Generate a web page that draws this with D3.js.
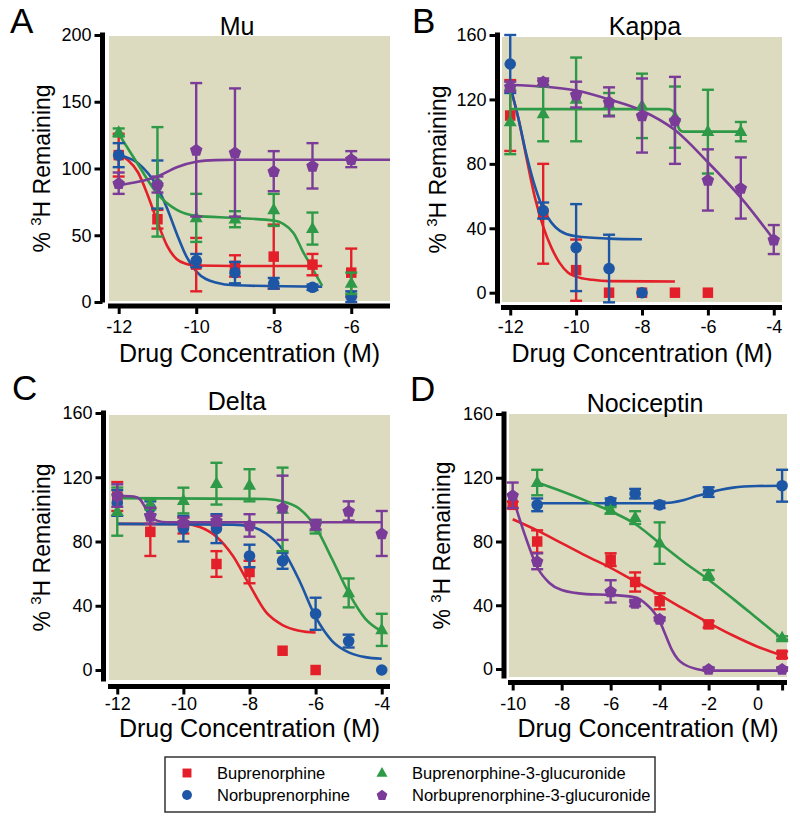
<!DOCTYPE html>
<html><head><meta charset="utf-8">
<script src="https://cdn.jsdelivr.net/npm/d3@7"></script>
<style>
body{margin:0;background:#fff;}
text{font-family:"Liberation Sans",Arial,Helvetica,sans-serif;fill:#000;}
</style>
</head><body>
<svg id="chart" width="800" height="822"></svg>
<script>
// ---------- series / legend ----------
const seriesNames = ["Buprenorphine","Norbuprenorphine","Buprenorphine-3-glucuronide","Norbuprenorphine-3-glucuronide"];
const seriesColors = ["#e3202a","#1d56a5","#2e9a47","#7a3c98"];
const seriesShapes = ["square","circle","triangle","pentagon"];

// ---------- A: Mu ----------
const muDose = [-12,-11,-10,-9,-8,-7,-6];
const muBup = [110,62,28,27,34,28,22];
const muBupErr = [16,7,20,8,24,8,18];
const muNor = [110,88,31,22,14,11,4];
const muNorErr = [9,18,5,8,4,2,4];
const muB3g = [127,90,63,62,69,55,14];
const muB3gErr = [3,41,18,6,12,12,8];
const muN3g = [89,88,114,112,98,102,107];
const muN3gErr = [8,6,50,48,15,17,6];
const muBupFitX = [-12,-11.75,-11.5,-11.25,-11,-10.75,-10.5,-10.25,-10,-9,-6.75];
const muBupFitY = [110,106,97,80,60,42,32,28.5,27.3,27,27];
const muNorFitX = [-12,-11.5,-11,-10.75,-10.5,-10.25,-10,-9.5,-9,-6.75];
const muNorFitY = [110,104,86,70,51,34,23,14.6,12.5,11.5];
const muB3gFitX = [-12,-11.5,-11,-10.5,-10,-9,-8,-7.5,-7.25,-7,-6.75];
const muB3gFitY = [126,103,81,69,64.5,63,61,52,38,25,12];
const muN3gFitX = [-12,-11.5,-11,-10.5,-10,-9.5,-9,-5];
const muN3gFitY = [87.5,90,94,101,105,106.3,106.5,106.5];
const muXTicks = [-12,-10,-8,-6];
const muYTicks = [0,50,100,150,200];

// ---------- B: Kappa ----------
const kapDose = [-12,-11,-10,-9,-8,-7,-6,-5,-4];
const kapBup = [110,49,14,0,0,0,0,null,null];
const kapBupErr = [22,31,19,0,0,0,0,0,0];
const kapNor = [142,51,28,15,0,null,null,null,null];
const kapNorErr = [18,5,27,21,0,0,0,0,0];
const kapB3g = [106,111,120,117,116,109,100,100,null];
const kapB3gErr = [20,17,26,7,20,19,26,6,0];
const kapN3g = [128,131,123,118.5,110,107,70,65,33];
const kapN3gErr = [3,2,8,9,23,27,19,19,9];
const kapBupFitX = [-12,-11.75,-11.5,-11.25,-11,-10.75,-10.5,-10.25,-10,-9.5,-9,-7];
const kapBupFitY = [128,108,83,59,41,28,18.5,12.5,10,8,7.2,7];
const kapNorFitX = [-12,-11.75,-11.5,-11.25,-11,-10.75,-10.5,-10,-9,-8];
const kapNorFitY = [128,108,85,66,52,43.5,38.5,35,33.6,33.2];
const kapB3gFitX = [-12,-7.2,-7.05,-6.95,-6.85,-6.75,-5];
const kapB3gFitY = [114,114,112.5,106,101,100,100];
const kapN3gFitX = [-12,-11,-10,-9,-8,-7,-6,-5,-4];
const kapN3gFitY = [129,128,125.5,120,113,101,81,59,33];
const kapXTicks = [-12,-10,-8,-6,-4];
const kapYTicks = [0,40,80,120,160];

// ---------- C: Delta ----------
const delDose = [-12,-11,-10,-9,-8,-7,-6,-5,-4];
const delBup = [108,86,90,66,61,12,0,null,null];
const delBupErr = [9,15,5,8,7,0,0,0,0];
const delNor = [104,101,88,88,71,68,35,18,0];
const delNorErr = [8,4,8,9,7,5,10,4,0];
const delB3g = [98.6,103,105.5,116,115,100,89,48,25];
const delB3gErr = [15,3,8,13,10,26,4,9,10];
const delN3g = [108.6,96,92,93,90,101,90.5,99,85];
const delN3gErr = [7,5,3,3,7,20,3,6,14];
const delBupFitX = [-12,-10,-9.5,-9,-8.5,-8,-7.5,-7,-6.5,-6];
const delBupFitY = [91,91,89,83,71,53,36,28,24.5,23.3];
const delNorFitX = [-12,-8.5,-8,-7.5,-7,-6.5,-6,-5.5,-5,-4.5,-4];
const delNorFitY = [91,90.5,89.5,85,75,56,33,18,11,8,7];
const delB3gFitX = [-12,-7.5,-7,-6.5,-6,-5.5,-5,-4.5,-4];
const delB3gFitY = [107,106.5,105,100.5,89,69,48,32,24];
const delN3gFitX = [-12,-11.5,-11.3,-11.15,-11,-10.8,-10.5,-4];
const delN3gFitY = [108.5,108,106,101,96,93,92,92];
const delXTicks = [-12,-10,-8,-6,-4];
const delYTicks = [0,40,80,120,160];

// ---------- D: Nociceptin ----------
const nocDose = [-10,-9,-6,-5,-4,-2,1];
const nocBup = [103,80,68.6,54.6,42.5,28,9];
const nocBupErr = [2,7,4,6,5,2,2];
const nocNor = [null,103,105,110,103,111,115];
const nocNorErr = [0,4,2,3,2,3,10];
const nocB3g = [null,117,99.6,95,79,59,19.5];
const nocB3gErr = [0,8,2,4,13,3,1];
const nocN3g = [109,67.6,48.7,41.4,31.4,0,0];
const nocN3gErr = [8,5,7,2,1,1,1];
const nocBupFitX = [-10,-9,-8,-7,-6,-5,-4,-3,-2,-1,0,1];
const nocBupFitY = [94,87,79,71,63.5,55,46.5,37.5,29,21,14,8.5];
const nocNorFitX = [-9,-4,-3.5,-3,-2.5,-2,-1.5,-1,0,1];
const nocNorFitY = [104,104,104.5,106,108.5,110.5,112.5,113.8,114.8,115];
const nocB3gFitX = [-9,-8,-7,-6,-5,-4,-3,-2,-1,0,1];
const nocB3gFitY = [117,111.5,105.5,99,91,79,67,56,44,31.5,19];
const nocN3gFitX = [-10,-9.5,-9,-8.5,-8,-7,-6,-5,-4.5,-4.25,-4,-3.75,-3.5,-3.25,-3,-2.5,-2,1];
const nocN3gFitY = [108,84,64,54,49.5,47,46.5,45,40,36,30,21,12,6,3,0,-1,-1];
const nocXTicks = [-10,-8,-6,-4,-2,0,1];
const nocYTicks = [0,40,80,120,160];

// ---------- layout (positions only) ----------
const panels = [
  {letter:"A", title:"Mu", dose:muDose,
   ys:[muBup,muNor,muB3g,muN3g], errs:[muBupErr,muNorErr,muB3gErr,muN3gErr],
   fits:[[muBupFitX,muBupFitY],[muNorFitX,muNorFitY],[muB3gFitX,muB3gFitY],[muN3gFitX,muN3gFitY]],
   xTicks:muXTicks, yTicks:muYTicks, xDom:[-12.25,-5], yMax:200,
   bg:[109,390,36,301], y0:302, yTop:35, axisX:102.5, axisY:306, tickBase:333,
   letterPos:[10,33], titlePos:[237,35], yTitleX:50, xTitleY:362},
  {letter:"B", title:"Kappa", dose:kapDose,
   ys:[kapBup,kapNor,kapB3g,kapN3g], errs:[kapBupErr,kapNorErr,kapB3gErr,kapN3gErr],
   fits:[[kapBupFitX,kapBupFitY],[kapNorFitX,kapNorFitY],[kapB3gFitX,kapB3gFitY],[kapN3gFitX,kapN3gFitY]],
   xTicks:kapXTicks, yTicks:kapYTicks, xDom:[-12.25,-3.75], yMax:160,
   bg:[502,782,37,302], y0:292.7, yTop:35, axisX:497.5, axisY:307.5, tickBase:333,
   letterPos:[412,33], titlePos:[645,35], yTitleX:446, xTitleY:362},
  {letter:"C", title:"Delta", dose:delDose,
   ys:[delBup,delNor,delB3g,delN3g], errs:[delBupErr,delNorErr,delB3gErr,delN3gErr],
   fits:[[delBupFitX,delBupFitY],[delNorFitX,delNorFitY],[delB3gFitX,delB3gFitY],[delN3gFitX,delN3gFitY]],
   xTicks:delXTicks, yTicks:delYTicks, xDom:[-12.25,-3.75], yMax:160,
   bg:[109,390,415,680], y0:670, yTop:413, axisX:103.5, axisY:686.5, tickBase:709.5,
   letterPos:[12,400], titlePos:[237,410], yTitleX:50, xTitleY:737},
  {letter:"D", title:"Nociceptin", dose:nocDose,
   ys:[nocBup,nocNor,nocB3g,nocN3g], errs:[nocBupErr,nocNorErr,nocB3gErr,nocN3gErr],
   fits:[[nocBupFitX,nocBupFitY],[nocNorFitX,nocNorFitY],[nocB3gFitX,nocB3gFitY],[nocN3gFitX,nocN3gFitY]],
   xTicks:nocXTicks, yTicks:nocYTicks, xDom:[-10.15,1.2], yMax:160,
   bg:[509,787,414,677], y0:669, yTop:414, axisX:504, axisY:682.5, tickBase:709.5,
   letterPos:[410,401], titlePos:[645,412], yTitleX:450, xTitleY:737}
];

const svg = d3.select("#chart");

function marker(g, shape, cx, cy, color, k) {
  k = k || 1;
  if (shape === "square") {
    const s = 10.5*k;
    g.append("rect").attr("x", cx - s/2).attr("y", cy - s/2).attr("width", s).attr("height", s).attr("fill", color);
  } else if (shape === "circle") {
    g.append("circle").attr("cx", cx).attr("cy", cy).attr("r", 5.8*k).attr("fill", color);
  } else if (shape === "triangle") {
    const h = 11.5*k, w = 13*k;
    g.append("path").attr("d", `M${cx},${cy - h*0.62}L${cx + w/2},${cy + h*0.38}L${cx - w/2},${cy + h*0.38}Z`).attr("fill", color);
  } else {
    const r = 6.6*k;
    const pts = d3.range(5).map(i => {
      const a = -Math.PI/2 + i*2*Math.PI/5;
      return [cx + r*Math.cos(a), cy + r*Math.sin(a) + 0.5*k];
    });
    g.append("path").attr("d", "M" + pts.map(p => p.join(",")).join("L") + "Z").attr("fill", color);
  }
}

panels.forEach(p => {
  const g = svg.append("g");
  const [bx0, bx1, by0, by1] = p.bg;
  const x = d3.scaleLinear().domain(p.xDom).range([bx0, bx1]);
  const y = d3.scaleLinear().domain([0, p.yMax]).range([p.y0, p.yTop]);

  g.append("rect").attr("x", bx0).attr("y", by0).attr("width", bx1 - bx0).attr("height", by1 - by0)
    .attr("fill", "#dddbbf");

  // axes
  const ya = g.append("g").attr("transform", `translate(${p.axisX},0)`)
    .call(d3.axisLeft(y).tickValues(p.yTicks).tickSize(8).tickPadding(3).tickSizeOuter(0));
  ya.select(".domain").remove();
  ya.selectAll(".tick line").attr("stroke", "#000").attr("stroke-width", 3);
  ya.selectAll(".tick text").attr("font-size", 18).attr("font-family", "Liberation Sans, Arial, sans-serif");
  g.append("line").attr("x1", p.axisX).attr("x2", p.axisX).attr("y1", y(p.yMax) - 2.5).attr("y2", by1 + 1.5)
    .attr("stroke", "#000").attr("stroke-width", 5);

  const xa = g.append("g").attr("transform", `translate(0,${p.axisY})`)
    .call(d3.axisBottom(x).tickValues(p.xTicks).tickSize(8).tickPadding(7).tickSizeOuter(0)
      .tickFormat(v => (p.letter === "D" && v === 1) ? "" : String(v)));
  xa.select(".domain").remove();
  xa.selectAll(".tick line").attr("stroke", "#000").attr("stroke-width", 3);
  xa.selectAll(".tick text").attr("font-size", 18).attr("font-family", "Liberation Sans, Arial, sans-serif")
    .attr("y", p.tickBase - p.axisY).attr("dy", 0);
  g.append("line").attr("x1", bx0 - 1).attr("x2", bx1).attr("y1", p.axisY).attr("y2", p.axisY)
    .attr("stroke", "#000").attr("stroke-width", 5);

  // titles
  g.append("text").attr("x", p.letterPos[0]).attr("y", p.letterPos[1]).attr("font-size", 35).text(p.letter);
  g.append("text").attr("x", p.titlePos[0]).attr("y", p.titlePos[1]).attr("font-size", 25)
    .attr("text-anchor", "middle").text(p.title);
  g.append("text").attr("x", (bx0 + bx1)/2).attr("y", p.xTitleY).attr("font-size", 25)
    .attr("text-anchor", "middle").text("Drug Concentration (M)");
  const yt = g.append("text").attr("transform", `translate(${p.yTitleX},${(by0 + by1)/2}) rotate(-90)`)
    .attr("font-size", 23).attr("text-anchor", "middle");
  yt.append("tspan").text("% ");
  yt.append("tspan").attr("font-size", 15).attr("dy", -9).text("3");
  yt.append("tspan").attr("dy", 9).text("H Remaining");

  const line = d3.line().x(d => x(d[0])).y(d => y(d[1])).curve(d3.curveMonotoneX);

  // fitted curves
  p.fits.forEach((f, si) => {
    const pts = f[0].map((v, i) => [v, f[1][i]]);
    g.append("path").attr("d", line(pts)).attr("fill", "none")
      .attr("stroke", seriesColors[si]).attr("stroke-width", 2.6);
  });

  // error bars and markers
  p.ys.forEach((vals, si) => {
    const col = seriesColors[si];
    const sg = g.append("g");
    vals.forEach((v, i) => {
      if (v === null) return;
      const e = p.errs[si][i];
      const cx = x(p.dose[i]);
      if (e > 0) {
        const yHi = y(v + e), yLo = y(v - e);
        sg.append("line").attr("x1", cx).attr("x2", cx).attr("y1", yHi).attr("y2", yLo)
          .attr("stroke", col).attr("stroke-width", 2.4);
        [yHi, yLo].forEach(yy => sg.append("line").attr("x1", cx - 6).attr("x2", cx + 6)
          .attr("y1", yy).attr("y2", yy).attr("stroke", col).attr("stroke-width", 2.4));
      }
    });
    vals.forEach((v, i) => {
      if (v === null) return;
      marker(sg, seriesShapes[i === -1 ? 0 : si], x(p.dose[i]), y(v), col);
    });
  });
});

// legend
const lg = svg.append("g");
lg.append("rect").attr("x", 165).attr("y", 757).attr("width", 490).attr("height", 55)
  .attr("fill", "#fff").attr("stroke", "#333").attr("stroke-width", 1.5);
const legCols = [187, 382];
const legRows = [773, 795];
seriesNames.forEach((name, i) => {
  const col = i < 2 ? 0 : 1;
  const row = i % 2;
  marker(lg, seriesShapes[i], legCols[col], legRows[row], seriesColors[i], 0.85);
  lg.append("text").attr("x", legCols[col] + 30).attr("y", legRows[row]).attr("dy", "0.35em")
    .attr("font-size", 16.5).text(name);
});
</script>
</body></html>
